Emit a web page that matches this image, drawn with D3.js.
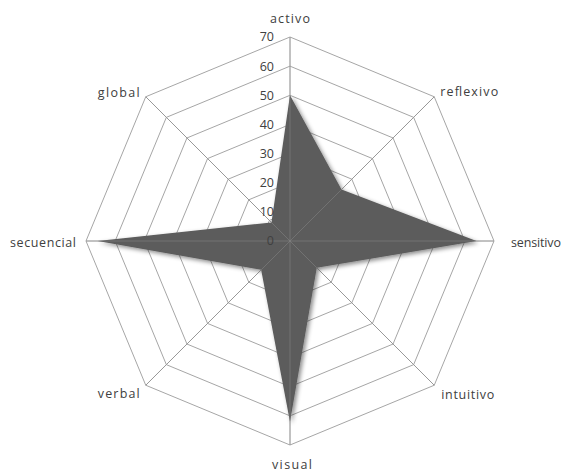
<!DOCTYPE html>
<html><head><meta charset="utf-8">
<script src="https://cdn.jsdelivr.net/npm/d3@7"></script>
<style>body{margin:0;background:#fff}svg{display:block}text{font-family:"Open Sans","Liberation Sans",sans-serif}</style>
</head><body>
<script>
const categories = ["activo","reflexivo","sensitivo","intuitivo","visual","verbal","secuencial","global"];
const values = [50,25,64,13,62,14,66,9];
const ticks = [0,10,20,30,40,50,60,70];

const W=563,H=473,cx=290,cy=241,R=204;
const svg=d3.select("body").append("svg").attr("width",W).attr("height",H);
const defs=svg.append("defs");
const f=defs.append("filter").attr("id","sh").attr("x","-20%").attr("y","-20%").attr("width","140%").attr("height","140%");
f.append("feDropShadow").attr("dx",2).attr("dy",2).attr("stdDeviation",2).attr("flood-color","#000").attr("flood-opacity",0.45);

const r=d3.scaleLinear().domain([0,70]).range([0,R]);
const ang=d3.scalePoint().domain(categories).range([0,2*Math.PI*(categories.length-1)/categories.length]);
const pt=(c,v)=>[cx+r(v)*Math.sin(ang(c)),cy-r(v)*Math.cos(ang(c))];

const g=svg.append("g");
ticks.filter(t=>t>0).forEach(t=>{
  g.append("polygon").attr("points",categories.map(c=>pt(c,t).join(",")).join(" "))
   .attr("fill","none").attr("stroke","#a6a6a6").attr("stroke-width",1);
});
categories.forEach(c=>{
  const p=pt(c,70);
  g.append("line").attr("x1",cx).attr("y1",cy).attr("x2",p[0]).attr("y2",p[1]).attr("stroke","#a6a6a6");
});

svg.append("polygon").attr("points",categories.map((c,i)=>pt(c,values[i]).join(",")).join(" "))
  .attr("fill","#5b5b5b").attr("filter","url(#sh)");

categories.forEach(c=>{
  const p=pt(c,70);
  svg.append("line").attr("x1",cx).attr("y1",cy).attr("x2",p[0]).attr("y2",p[1]).attr("stroke","#8a8a8a").attr("stroke-width",0.8).attr("opacity",0.6);
});

ticks.forEach(t=>{
  svg.append("text").attr("x",cx-16).attr("y",cy-r(t)).attr("dy","0.35em")
    .attr("text-anchor","end").attr("font-size",12.5).attr("fill","#404040").text(t);
});

const lab=[
  {a:"middle",dx:0,dy:-18,w:40},
  {a:"start",dx:6,dy:-5,w:58},
  {a:"start",dx:17,dy:2,w:50},
  {a:"start",dx:7,dy:9,w:53},
  {a:"middle",dx:2,dy:20,w:40},
  {a:"end",dx:-6,dy:8,w:42},
  {a:"end",dx:-10,dy:2,w:66},
  {a:"end",dx:-6,dy:-4,w:42}
];
categories.forEach((c,i)=>{
  const p=pt(c,70);
  svg.append("text").attr("x",p[0]+lab[i].dx).attr("y",p[1]+lab[i].dy).attr("dy","0.35em")
    .attr("text-anchor",lab[i].a).attr("font-size",12.5).attr("fill","#404040")
    .attr("textLength",lab[i].w).attr("lengthAdjust","spacing").text(c);
});
</script>
</body></html>
